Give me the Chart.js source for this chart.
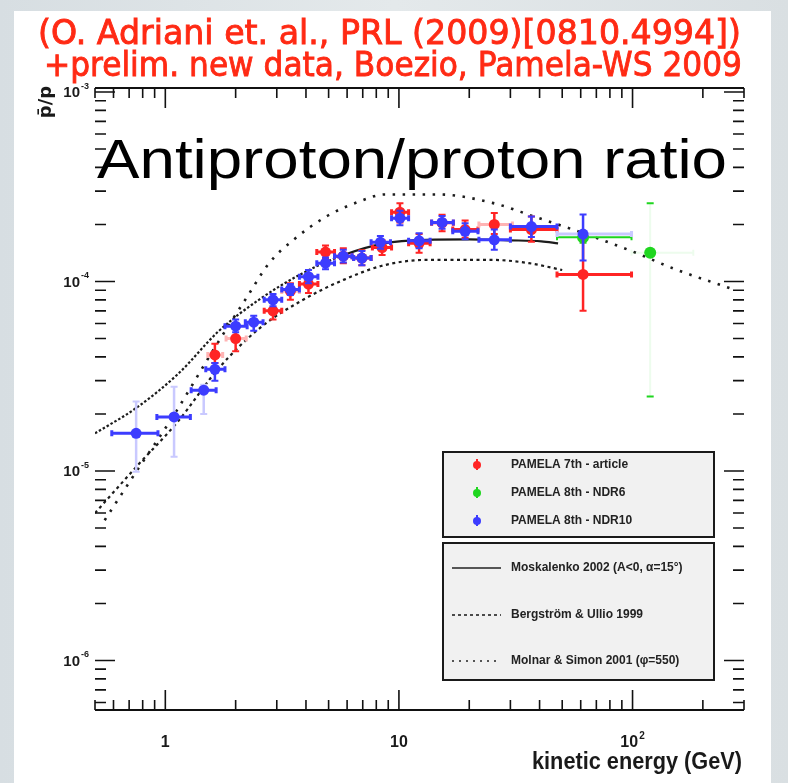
<!DOCTYPE html>
<html>
<head>
<meta charset="utf-8">
<script src="https://cdn.jsdelivr.net/npm/chart.js@4.4.0/dist/chart.umd.min.js"></script>
<style>
  html, body { margin: 0; padding: 0; }
  body { width: 788px; height: 783px; position: relative; overflow: hidden;
         background: linear-gradient(to right, #d7dee2, #e4e9eb 50%, #d9dfe2); }
  #panel { position: absolute; left: 14px; top: 11px; width: 757px; height: 772px; background: #fff; }
  #myChart { position: absolute; left: 0; top: 0; }
</style>
</head>
<body>
<div id="panel"></div>
<canvas id="myChart" width="788" height="783"></canvas>
<script>
// PAMELA 7th - article
const redE  = [1.63, 2.0, 2.89, 3.43, 4.1, 4.85, 5.78, 6.94, 8.47, 10.1, 12.2, 15.3, 19.2, 25.6, 36.9, 61.4];
const redR  = [4.1e-5, 5.0e-5, 7.0e-5, 8.9e-5, 9.7e-5, 1.43e-4, 1.36e-4, 1.33e-4, 1.51e-4, 2.32e-4, 1.59e-4, 2.04e-4, 1.88e-4, 2.0e-4, 1.88e-4, 1.09e-4];
const redLo = [3.72e-5, 4.28e-5, 6.3e-5, 8.0e-5, 8.7e-5, 1.32e-4, 1.25e-4, 1.22e-4, 1.38e-4, 2.05e-4, 1.42e-4, 1.84e-4, 1.7e-4, 1.78e-4, 1.62e-4, 7.0e-5];
const redHi = [4.7e-5, 5.73e-5, 7.8e-5, 9.8e-5, 1.07e-4, 1.55e-4, 1.5e-4, 1.46e-4, 1.65e-4, 2.59e-4, 1.78e-4, 2.25e-4, 2.1e-4, 2.3e-4, 2.2e-4, 1.77e-4];
const redBinLo = [1.52, 1.82, 2.65, 3.15, 3.75, 4.45, 5.3, 6.4, 7.7, 9.3, 11.0, 13.8, 17.0, 22.0, 30.0, 47.5];
const redBinHi = [1.76, 2.22, 3.15, 3.75, 4.5, 5.3, 6.3, 7.6, 9.3, 11.0, 13.6, 17.1, 21.8, 30.6, 47.5, 99];

// PAMELA 8th - NDR6
const greenE  = [61.4, 119];
const greenR  = [1.71e-4, 1.42e-4];
const greenLo = [1.6e-4, 2.47e-5];
const greenHi = [1.82e-4, 2.59e-4];
const greenBinLo = [47.5, 99];
const greenBinHi = [99, 182];

// PAMELA 8th - NDR10
const blueE  = [0.75, 1.09, 1.46, 1.63, 2.0, 2.39, 2.89, 3.43, 4.1, 4.85, 5.78, 6.94, 8.33, 10.1, 12.2, 15.3, 19.2, 25.6, 36.9, 61.4];
const blueR  = [1.58e-5, 1.93e-5, 2.67e-5, 3.44e-5, 5.81e-5, 6.1e-5, 8.0e-5, 9.08e-5, 1.06e-4, 1.25e-4, 1.36e-4, 1.33e-4, 1.61e-4, 2.16e-4, 1.64e-4, 2.05e-4, 1.84e-4, 1.66e-4, 1.95e-4, 1.78e-4];
const blueLo = [0.99e-5, 1.19e-5, 2.0e-5, 2.99e-5, 5.4e-5, 5.5e-5, 7.4e-5, 8.5e-5, 9.8e-5, 1.16e-4, 1.26e-4, 1.22e-4, 1.49e-4, 1.98e-4, 1.5e-4, 1.9e-4, 1.67e-4, 1.47e-4, 1.72e-4, 1.29e-4];
const blueHi = [2.33e-5, 2.78e-5, 2.85e-5, 3.72e-5, 6.3e-5, 6.6e-5, 8.6e-5, 9.7e-5, 1.15e-4, 1.34e-4, 1.47e-4, 1.45e-4, 1.74e-4, 2.36e-4, 1.8e-4, 2.22e-4, 2.03e-4, 1.88e-4, 2.2e-4, 2.26e-4];
const blueBinLo = [0.59, 0.92, 1.29, 1.49, 1.80, 2.20, 2.65, 3.15, 3.75, 4.45, 5.3, 6.4, 7.6, 9.3, 11.0, 13.8, 17.0, 22.0, 30.0, 47.5];
const blueBinHi = [0.93, 1.28, 1.65, 1.80, 2.24, 2.62, 3.15, 3.75, 4.5, 5.3, 6.3, 7.6, 9.2, 11.0, 13.6, 17.1, 21.8, 30.0, 47.5, 99];

// model curves
const moskE = [0.5, 0.75, 1.13, 1.70, 2.56, 3.84, 5.8, 8.67, 13.1, 20, 29.4, 40.7, 48];
const moskR = [1.58e-5, 2.15e-5, 3.24e-5, 5.5e-5, 8.13e-5, 1.10e-4, 1.38e-4, 1.59e-4, 1.66e-4, 1.67e-4, 1.65e-4, 1.63e-4, 1.59e-4];
const bergE = [0.5, 0.75, 1.13, 1.70, 2.56, 3.84, 5.79, 8.67, 13.1, 25, 36, 50];
const bergR = [6.0e-6, 1.05e-5, 1.82e-5, 3.51e-5, 5.73e-5, 7.94e-5, 1.02e-4, 1.22e-4, 1.30e-4, 1.30e-4, 1.25e-4, 1.15e-4];
const molnE = [0.55, 0.75, 1.09, 1.63, 2.26, 2.78, 3.54, 4.91, 6.8, 8.72, 14.7, 25.1, 37.6, 61.4, 100, 150, 276];
const molnR = [5.5e-6, 9.9e-6, 1.98e-5, 4.49e-5, 8.45e-5, 1.25e-4, 1.66e-4, 2.21e-4, 2.65e-4, 2.88e-4, 2.88e-4, 2.6e-4, 2.21e-4, 1.80e-4, 1.44e-4, 1.17e-4, 9.0e-5];

const xTickLabels = { 1: '1', 10: '10', 100: ['10', '2'] };
const yTickLabels = { '1e-3': ['10', '-3'], '1e-4': ['10', '-4'], '1e-5': ['10', '-5'], '1e-6': ['10', '-6'] };

const red = '#ff2424', green = '#1fd61f', blue = '#3c3cff';
const pts = (xs, ys) => xs.map((v, i) => ({ x: v, y: ys[i] }));

// error bars with end caps, drawn under each dataset's markers
const errorBars = {
  id: 'errorBars',
  beforeDatasetDraw(chart, args) {
    const ds = chart.data.datasets[args.index];
    if (!ds.err) return;
    const { ctx, chartArea: a, scales: { x, y } } = chart;
    const e = ds.err;
    ctx.save();
    ctx.beginPath();
    ctx.rect(a.left, a.top, a.right - a.left, a.bottom - a.top);
    ctx.clip();
    ds.data.forEach((p, i) => {
      const px = x.getPixelForValue(p.x), py = y.getPixelForValue(p.y);
      const x0 = x.getPixelForValue(ds.binLo[i]), x1 = x.getPixelForValue(ds.binHi[i]);
      const y0 = y.getPixelForValue(ds.lo[i]), y1 = y.getPixelForValue(ds.hi[i]);
      // horizontal
      ctx.strokeStyle = e.fadeH.includes(i) ? e.faint : e.color;
      ctx.lineWidth = e.hWidth;
      ctx.beginPath();
      ctx.moveTo(x0, py); ctx.lineTo(x1, py);
      ctx.moveTo(x0, py - 3); ctx.lineTo(x0, py + 3);
      ctx.moveTo(x1, py - 3); ctx.lineTo(x1, py + 3);
      ctx.stroke();
      // vertical
      ctx.strokeStyle = e.fadeV.includes(i) ? e.faint : e.color;
      ctx.lineWidth = e.vWidth;
      ctx.beginPath();
      ctx.moveTo(px, y0); ctx.lineTo(px, y1);
      ctx.stroke();
      ctx.strokeStyle = e.fadeV.includes(i) && !e.capsSolid ? e.faint : e.color;
      ctx.lineWidth = 2;
      ctx.beginPath();
      ctx.moveTo(px - 3.5, y0); ctx.lineTo(px + 3.5, y0);
      ctx.moveTo(px - 3.5, y1); ctx.lineTo(px + 3.5, y1);
      ctx.stroke();
    });
    ctx.restore();
  }
};

function drawPow(ctx, base, exp, x, y, align, size) {
  const small = Math.round(size * 0.6);
  ctx.font = `bold ${size}px "Liberation Sans"`;
  const wb = ctx.measureText(base).width;
  ctx.font = `bold ${small}px "Liberation Sans"`;
  const we = exp ? ctx.measureText(exp).width + 1 : 0;
  const total = wb + we;
  const left = align === 'right' ? x - total : x - total / 2;
  ctx.textAlign = 'left';
  ctx.textBaseline = 'middle';
  ctx.font = `bold ${size}px "Liberation Sans"`;
  ctx.fillText(base, left, y);
  if (exp) {
    ctx.font = `bold ${small}px "Liberation Sans"`;
    ctx.fillText(exp, left + wb + 1, y - size * 0.45);
  }
}

// text squeezed or stretched horizontally to span a given width
function fitText(ctx, text, x, y, width, stroke) {
  const w = ctx.measureText(text).width;
  ctx.save();
  ctx.translate(x, y);
  ctx.scale(width / w, 1);
  ctx.textAlign = 'left';
  ctx.fillText(text, 0, 0);
  if (stroke) { ctx.lineWidth = stroke; ctx.strokeText(text, 0, 0); }
  ctx.restore();
}

// ROOT style frame: inward ticks on all four sides, decade labels
const frame = {
  id: 'frame',
  afterDraw(chart) {
    const { ctx, chartArea: a, scales: { x, y } } = chart;
    ctx.save();
    ctx.strokeStyle = '#111';
    ctx.lineWidth = 2;
    ctx.beginPath();
    ctx.moveTo(a.left, a.bottom); ctx.lineTo(a.right, a.bottom);
    ctx.moveTo(a.left, a.top); ctx.lineTo(a.right, a.top);
    ctx.stroke();

    ctx.lineWidth = 1.6;
    ctx.beginPath();
    for (let k = -1; k <= 2; k++) {
      for (let m = 1; m <= 9; m++) {
        const v = Number((m * Math.pow(10, k)).toPrecision(3));
        if (v < x.min || v > x.max) continue;
        const px = x.getPixelForValue(v);
        const len = m === 1 ? 20 : 10;
        ctx.moveTo(px, a.bottom); ctx.lineTo(px, a.bottom - len);
        ctx.moveTo(px, a.top); ctx.lineTo(px, a.top + len);
      }
    }
    for (let k = -7; k <= -3; k++) {
      for (let m = 1; m <= 9; m++) {
        const v = m * Math.pow(10, k);
        if (v < y.min || v > y.max) continue;
        const py = y.getPixelForValue(v);
        const len = m === 1 ? 20 : 11;
        ctx.moveTo(a.left, py); ctx.lineTo(a.left + len, py);
        ctx.moveTo(a.right, py); ctx.lineTo(a.right - len, py);
      }
    }
    ctx.stroke();

    ctx.fillStyle = '#1a1a1a';
    Object.entries(xTickLabels).forEach(([v, t]) => {
      const px = x.getPixelForValue(+v);
      if (Array.isArray(t)) drawPow(ctx, t[0], t[1], px, a.bottom + 33, 'center', 16);
      else drawPow(ctx, t, '', px, a.bottom + 33, 'center', 16);
    });
    Object.entries(yTickLabels).forEach(([v, t]) => {
      drawPow(ctx, t[0], t[1], a.left - 6, y.getPixelForValue(+v) + 1, 'right', 15);
    });

    // axis titles
    ctx.font = 'bold 23px "Liberation Sans"';
    ctx.textBaseline = 'alphabetic';
    fitText(ctx, 'kinetic energy (GeV)', 532, a.bottom + 59, 210);
    ctx.save();
    ctx.translate(51, 102);
    ctx.rotate(-Math.PI / 2);
    ctx.font = 'bold 18px "DejaVu Sans"';
    ctx.textAlign = 'center';
    ctx.fillText('p\u0304/p', 0, 0);
    ctx.restore();

    // headline inside the frame
    ctx.fillStyle = '#000';
    ctx.font = '56px "Liberation Sans"';
    fitText(ctx, 'Antiproton/proton ratio', 97, 178, 630);

    // citation lines
    ctx.fillStyle = '#ff2a14';
    ctx.strokeStyle = '#ff2a14';
    ctx.font = '34px "DejaVu Sans"';
    fitText(ctx, '(O. Adriani et. al., PRL (2009)[0810.4994])', 38, 44, 703, 0.9);
    fitText(ctx, '+prelim. new data, Boezio, Pamela-WS 2009', 44, 76, 698, 0.9);
    ctx.restore();
  }
};

// two boxed legends: data sets and model curves
const boxLegend = {
  id: 'boxLegend',
  afterDraw(chart) {
    const { ctx } = chart;
    const ds = chart.data.datasets;
    ctx.save();
    const box = (y0, y1) => {
      ctx.fillStyle = '#f1f1f1';
      ctx.fillRect(443, y0, 271, y1 - y0);
      ctx.strokeStyle = '#1a1a1a';
      ctx.lineWidth = 2;
      ctx.strokeRect(443, y0, 271, y1 - y0);
    };
    box(452, 537);
    box(543, 680);
    ctx.font = 'bold 12px "Liberation Sans"';
    ctx.textBaseline = 'middle';
    ctx.textAlign = 'left';
    [1, 2, 0].forEach((idx, r) => {
      const yy = [465, 493, 521][r];
      const c = ds[idx].pointBackgroundColor;
      ctx.strokeStyle = c;
      ctx.lineWidth = 2;
      ctx.beginPath(); ctx.moveTo(477, yy - 6); ctx.lineTo(477, yy + 5); ctx.stroke();
      ctx.fillStyle = c;
      ctx.beginPath(); ctx.arc(477, yy, 4, 0, Math.PI * 2); ctx.fill();
      ctx.fillStyle = '#222';
      ctx.fillText(ds[idx].label, 511, yy, 200);
    });
    [3, 4, 5].forEach((idx, r) => {
      const yy = [568, 615, 661][r];
      ctx.strokeStyle = '#222';
      ctx.lineWidth = 1.6;
      ctx.setLineDash(ds[idx].legendDash);
      ctx.beginPath(); ctx.moveTo(452, yy); ctx.lineTo(501, yy); ctx.stroke();
      ctx.setLineDash([]);
      ctx.fillStyle = '#222';
      ctx.fillText(ds[idx].label, 511, yy, 198);
    });
    ctx.restore();
  }
};

const pointStyle = (c, r) => ({ pointBackgroundColor: c, pointBorderColor: c, pointRadius: r, pointBorderWidth: 0, showLine: false });
const curveStyle = (w, dash) => ({ showLine: true, borderColor: '#1c1c1c', borderWidth: w, borderDash: dash, pointRadius: 0, cubicInterpolationMode: 'monotone', fill: false });

new Chart('myChart', {
  type: 'scatter',
  data: {
    datasets: [
      {
        label: 'PAMELA 8th - NDR10', data: pts(blueE, blueR),
        lo: blueLo, hi: blueHi, binLo: blueBinLo, binHi: blueBinHi,
        err: { color: blue, faint: '#c9c9ff', hWidth: 3, vWidth: 2.5, fadeH: [19], fadeV: [0, 1, 2] },
        ...pointStyle(blue, 5.5)
      },
      {
        label: 'PAMELA 7th - article', data: pts(redE, redR),
        lo: redLo, hi: redHi, binLo: redBinLo, binHi: redBinHi,
        err: { color: red, faint: '#ffb4b4', hWidth: 3, vWidth: 2.5, fadeH: [0, 1, 3, 13], fadeV: [] },
        ...pointStyle(red, 5.5)
      },
      {
        label: 'PAMELA 8th - NDR6', data: pts(greenE, greenR),
        lo: greenLo, hi: greenHi, binLo: greenBinLo, binHi: greenBinHi,
        err: { color: green, faint: 'rgba(31,214,31,0.08)', hWidth: 2, vWidth: 2, fadeH: [1], fadeV: [1], capsSolid: true },
        ...pointStyle(green, 6)
      },
      {
        label: 'Moskalenko 2002 (A<0, \u03b1=15\u00b0)', data: pts(moskE, moskR),
        ...curveStyle(2.2, []), legendDash: [],
        segment: { borderDash: c => c.p1.parsed.x <= 6 ? [2.5, 2] : undefined }
      },
      {
        label: 'Bergstr\u00f6m & Ullio 1999', data: pts(bergE, bergR),
        ...curveStyle(2.2, [3, 3.5]), legendDash: [3, 3]
      },
      {
        label: 'Molnar & Simon 2001 (\u03c6=550)', data: pts(molnE, molnR),
        ...curveStyle(2.6, [2.5, 7.5]), legendDash: [2, 5]
      }
    ]
  },
  options: {
    responsive: false,
    animation: false,
    layout: { padding: { left: 95, right: 44, top: 88, bottom: 73 } },
    scales: {
      x: { type: 'logarithmic', min: 0.5, max: 300, display: false },
      y: { type: 'logarithmic', min: 5.48e-7, max: 1.05e-3, display: false }
    },
    plugins: { legend: { display: false }, tooltip: { enabled: false } }
  },
  plugins: [errorBars, frame, boxLegend]
});
</script>
</body>
</html>
